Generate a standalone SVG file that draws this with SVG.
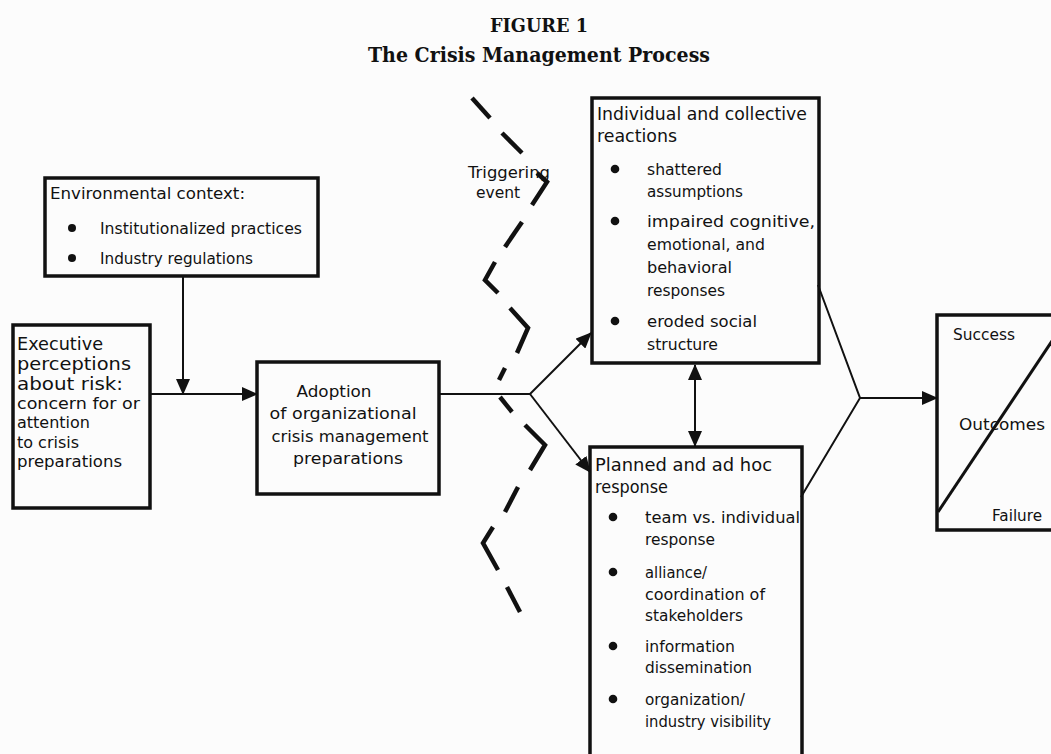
<svg xmlns="http://www.w3.org/2000/svg" width="1051" height="754" viewBox="0 0 1051 754">
  <defs>
    <style>
      .box { fill: none; stroke: #111; stroke-width: 3.5; }
      .conn { fill: none; stroke: #111; stroke-width: 2; }
      .dash { fill: none; stroke: #111; stroke-width: 4.5; stroke-linejoin: miter; }
      .t { font-family: "DejaVu Sans", "Liberation Sans", sans-serif; font-size: 16.5px; fill: #111; }
      .h { font-family: "DejaVu Sans", "Liberation Sans", sans-serif; font-size: 17px; fill: #111; }
      .big { font-family: "DejaVu Sans", "Liberation Sans", sans-serif; font-size: 17.5px; fill: #111; }
      .s { font-family: "DejaVu Sans", "Liberation Sans", sans-serif; font-size: 15.5px; fill: #111; }
      .title { font-family: "DejaVu Serif", "Liberation Serif", serif; font-weight: bold; fill: #111; }
      .dot { fill: #111; }
    </style>
    <marker id="arrow" markerUnits="userSpaceOnUse" markerWidth="16" markerHeight="14" refX="15" refY="7" orient="auto-start-reverse">
      <path d="M0,0 L16,7 L0,14 z" fill="#111"/>
    </marker>
  </defs>

  <rect width="1051" height="754" fill="#fcfcfc"/>

  <!-- heading -->
  <g id="heading">
    <text class="title" x="539" y="32" font-size="19" text-anchor="middle" textLength="98" lengthAdjust="spacingAndGlyphs">FIGURE 1</text>
    <text class="title" x="539" y="62" font-size="20" text-anchor="middle" textLength="342" lengthAdjust="spacingAndGlyphs">The Crisis Management Process</text>
  </g>

  <!-- environmental context -->
  <g id="environment">
    <rect class="box" x="45" y="178" width="273" height="98"/>
    <text class="t" x="50" y="199" textLength="195" lengthAdjust="spacingAndGlyphs">Environmental context:</text>
    <circle class="dot" cx="72" cy="228" r="4"/>
    <text class="s" x="100" y="234" textLength="202" lengthAdjust="spacingAndGlyphs">Institutionalized practices</text>
    <circle class="dot" cx="72" cy="258" r="4"/>
    <text class="s" x="100" y="264" textLength="153" lengthAdjust="spacingAndGlyphs">Industry regulations</text>
  </g>

  <!-- executive perceptions -->
  <g id="executive">
    <rect class="box" x="13" y="325" width="137" height="183"/>
    <text class="big" x="17" y="350" textLength="86" lengthAdjust="spacingAndGlyphs">Executive</text>
    <text class="big" x="17" y="370" textLength="114" lengthAdjust="spacingAndGlyphs">perceptions</text>
    <text class="big" x="17" y="390" textLength="106" lengthAdjust="spacingAndGlyphs">about risk:</text>
    <text class="t" x="17" y="409" textLength="123" lengthAdjust="spacingAndGlyphs">concern for or</text>
    <text class="t" x="17" y="428" textLength="73" lengthAdjust="spacingAndGlyphs">attention</text>
    <text class="t" x="17" y="448" textLength="62" lengthAdjust="spacingAndGlyphs">to crisis</text>
    <text class="t" x="17" y="467" textLength="105" lengthAdjust="spacingAndGlyphs">preparations</text>
  </g>

  <!-- adoption of preparations -->
  <g id="adoption">
    <rect class="box" x="257" y="362" width="182" height="132"/>
    <text class="t" x="334" y="397" text-anchor="middle" textLength="75" lengthAdjust="spacingAndGlyphs">Adoption</text>
    <text class="t" x="343" y="419" text-anchor="middle" textLength="147" lengthAdjust="spacingAndGlyphs">of organizational</text>
    <text class="t" x="350" y="442" text-anchor="middle" textLength="157" lengthAdjust="spacingAndGlyphs">crisis management</text>
    <text class="t" x="348" y="464" text-anchor="middle" textLength="110" lengthAdjust="spacingAndGlyphs">preparations</text>
  </g>

  <!-- triggering event -->
  <g id="trigger">
    <path class="dash" d="M472,98 L490,118"/>
    <path class="dash" d="M502,133 L522,153"/>
    <path class="dash" d="M537,173 L547,182 L532,205"/>
    <path class="dash" d="M522,222 L505,247"/>
    <path class="dash" d="M495,262 L485,280 L498,293"/>
    <path class="dash" d="M510,308 L528,328 L517,353"/>
    <path class="dash" d="M505,368 L499,380"/>
    <path class="dash" d="M500,397 L512,412"/>
    <path class="dash" d="M525,425 L545,445 L530,470"/>
    <path class="dash" d="M518,487 L505,512"/>
    <path class="dash" d="M493,527 L483,543 L498,570"/>
    <path class="dash" d="M507,587 L520,612"/>
    <text class="s" x="509" y="178" text-anchor="middle" textLength="82" lengthAdjust="spacingAndGlyphs">Triggering</text>
    <text class="s" x="498" y="198" text-anchor="middle">event</text>
  </g>

  <!-- individual and collective reactions -->
  <g id="reactions">
    <rect class="box" x="592" y="98" width="227" height="265"/>
    <text class="h" x="597" y="120" textLength="210" lengthAdjust="spacingAndGlyphs">Individual and collective</text>
    <text class="h" x="597" y="142" textLength="80" lengthAdjust="spacingAndGlyphs">reactions</text>
    <circle class="dot" cx="615" cy="169" r="4.3"/>
    <text class="t" x="647" y="175" textLength="75" lengthAdjust="spacingAndGlyphs">shattered</text>
    <text class="t" x="647" y="197" textLength="96" lengthAdjust="spacingAndGlyphs">assumptions</text>
    <circle class="dot" cx="615" cy="221" r="4.3"/>
    <text class="t" x="647" y="227" textLength="168" lengthAdjust="spacingAndGlyphs">impaired cognitive,</text>
    <text class="t" x="647" y="250" textLength="118" lengthAdjust="spacingAndGlyphs">emotional, and</text>
    <text class="t" x="647" y="273" textLength="85" lengthAdjust="spacingAndGlyphs">behavioral</text>
    <text class="t" x="647" y="296" textLength="78" lengthAdjust="spacingAndGlyphs">responses</text>
    <circle class="dot" cx="615" cy="321" r="4.3"/>
    <text class="t" x="647" y="327" textLength="110" lengthAdjust="spacingAndGlyphs">eroded social</text>
    <text class="t" x="647" y="350" textLength="71" lengthAdjust="spacingAndGlyphs">structure</text>
  </g>

  <!-- planned and ad hoc response -->
  <g id="response">
    <rect class="box" x="590" y="447" width="212" height="340"/>
    <text class="h" x="595" y="471" textLength="177" lengthAdjust="spacingAndGlyphs">Planned and ad hoc</text>
    <text class="h" x="595" y="493" textLength="73" lengthAdjust="spacingAndGlyphs">response</text>
    <circle class="dot" cx="613" cy="517" r="4.3"/>
    <text class="t" x="645" y="523" textLength="155" lengthAdjust="spacingAndGlyphs">team vs. individual</text>
    <text class="t" x="645" y="545" textLength="70" lengthAdjust="spacingAndGlyphs">response</text>
    <circle class="dot" cx="613" cy="572" r="4.3"/>
    <text class="t" x="645" y="578" textLength="62" lengthAdjust="spacingAndGlyphs">alliance/</text>
    <text class="t" x="645" y="600" textLength="120" lengthAdjust="spacingAndGlyphs">coordination of</text>
    <text class="t" x="645" y="621" textLength="98" lengthAdjust="spacingAndGlyphs">stakeholders</text>
    <circle class="dot" cx="613" cy="646" r="4.3"/>
    <text class="t" x="645" y="652" textLength="90" lengthAdjust="spacingAndGlyphs">information</text>
    <text class="t" x="645" y="673" textLength="107" lengthAdjust="spacingAndGlyphs">dissemination</text>
    <circle class="dot" cx="613" cy="699" r="4.3"/>
    <text class="t" x="645" y="705" textLength="100" lengthAdjust="spacingAndGlyphs">organization/</text>
    <text class="t" x="645" y="727" textLength="126" lengthAdjust="spacingAndGlyphs">industry visibility</text>
  </g>

  <!-- outcomes -->
  <g id="outcomes">
    <rect class="box" x="937" y="315" width="140" height="215"/>
    <path d="M938,512 L1066,320" stroke="#111" stroke-width="3" fill="none"/>
    <text class="s" x="953" y="340" textLength="62" lengthAdjust="spacingAndGlyphs">Success</text>
    <text class="s" x="959" y="430" textLength="86" lengthAdjust="spacingAndGlyphs">Outcomes</text>
    <text class="s" x="992" y="521" textLength="50" lengthAdjust="spacingAndGlyphs">Failure</text>
  </g>

  <!-- connectors -->
  <g id="connectors">
    <path class="conn" d="M150,394 L257,394" marker-end="url(#arrow)"/>
    <path class="conn" d="M183,276 L183,394" marker-end="url(#arrow)"/>
    <path class="conn" d="M439,394 L530,394"/>
    <path class="conn" d="M530,394 L591,333" marker-end="url(#arrow)"/>
    <path class="conn" d="M530,394 L590,472" marker-end="url(#arrow)"/>
    <path class="conn" d="M695,365 L695,446" marker-start="url(#arrow)" marker-end="url(#arrow)"/>
    <path class="conn" d="M818,285 L860,398 L801,497"/>
    <path class="conn" d="M860,398 L937,398" marker-end="url(#arrow)"/>
  </g>
</svg>
